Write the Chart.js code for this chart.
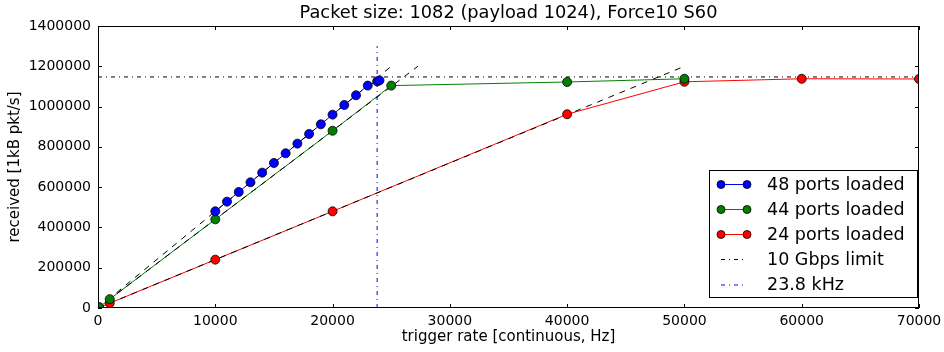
<!DOCTYPE html>
<html><head><meta charset="utf-8">
<script src="https://cdn.jsdelivr.net/npm/chart.js@4/dist/chart.umd.min.js"></script>
<style>html,body{margin:0;padding:0;background:#fff;overflow:hidden}canvas{display:block}</style>
</head><body>
<canvas id="c" width="944" height="352"></canvas>
<script>
const chartTitle = "Packet size: 1082 (payload 1024), Force10 S60";
const xTitle = "trigger rate [continuous, Hz]";
const yTitle = "received [1kB pkt/s]";
const xTicks = [0, 10000, 20000, 30000, 40000, 50000, 60000, 70000];
const yTicks = [0, 200000, 400000, 600000, 800000, 1000000, 1200000, 1400000];

const rate48 = [10000, 11000, 12000, 13000, 14000, 15000, 16000, 17000, 18000, 19000, 20000, 21000, 22000, 23000, 23800, 24000];
const recv48 = [480000, 528000, 576000, 624000, 672000, 720000, 768000, 816000, 864000, 912000, 960000, 1008000, 1056000, 1104000, 1125000, 1130000];

const rate44 = [100, 1000, 10000, 20000, 25000, 40000, 50000];
const recv44 = [4400, 44000, 440000, 880000, 1104000, 1122000, 1138000];

const rate24 = [100, 1000, 10000, 20000, 40000, 50000, 60000, 70000];
const recv24 = [2400, 24000, 240000, 480000, 962000, 1123000, 1138000, 1137000];

const theoryRate48 = [0, 25000];
const theoryRecv48 = [0, 1200000];
const theoryRate44 = [0, 27273];
const theoryRecv44 = [0, 1200000];
const theoryRate24 = [0, 50000];
const theoryRecv24 = [0, 1200000];

const limitRate = [0, 70000];
const limitRecv = [1147000, 1147000];
const kHzRate = [23800, 23800];
const kHzRecv = [0, 1300000];

const seriesLabels = ["48 ports loaded", "44 ports loaded", "24 ports loaded", "10 Gbps limit", "23.8 kHz"];
const seriesColors = ["#0000ff", "#008000", "#ff0000", "#000000", "#0000ff"];

const FONT = "'DejaVu Sans', 'Liberation Sans', sans-serif";
const DASH = [6, 6];
const DASHDOT = [4, 4, 1, 4];

function pts(xs, ys) { return xs.map((x, i) => ({x: x, y: ys[i]})); }

function lineDS(xs, ys, color, dash, order) {
  return {data: pts(xs, ys), showLine: true, borderColor: color, borderWidth: 1,
    borderDash: dash || [], pointRadius: 0, pointHoverRadius: 0, fill: false,
    tension: 0, order: order, clip: 0};
}
function markerDS(xs, ys, color) {
  return {data: pts(xs, ys), showLine: false, pointRadius: 4.5, pointHoverRadius: 4.5,
    pointBackgroundColor: color, pointBorderColor: '#000', pointBorderWidth: 0.8,
    order: 0, clip: 0};
}

const decor = {
  id: 'decor',
  afterDraw(chart) {
    const ctx = chart.ctx, a = chart.chartArea;
    const xs = chart.scales.x, ys = chart.scales.y;
    ctx.save();
    ctx.strokeStyle = '#000'; ctx.lineWidth = 1;
    ctx.strokeRect(Math.round(a.left) + 0.5, Math.round(a.top) + 0.5, Math.round(a.right - a.left) - 1, Math.round(a.bottom - a.top) - 1);
    ctx.beginPath();
    xTicks.forEach(v => {
      const p = Math.round(xs.getPixelForValue(v)) + 0.5;
      ctx.moveTo(p, a.bottom); ctx.lineTo(p, a.bottom - 4);
      ctx.moveTo(p, a.top); ctx.lineTo(p, a.top + 4);
    });
    yTicks.forEach(v => {
      const p = Math.round(ys.getPixelForValue(v)) + 0.5;
      ctx.moveTo(a.left, p); ctx.lineTo(a.left + 4, p);
      ctx.moveTo(a.right, p); ctx.lineTo(a.right - 4, p);
    });
    ctx.stroke();
    ctx.fillStyle = '#000';
    ctx.font = '17.8px ' + FONT;
    ctx.textAlign = 'center'; ctx.textBaseline = 'middle';
    ctx.fillText(chartTitle, (a.left + a.right) / 2, 13);
    const bx = 709.5, by = 170.5, bw = 208, bh = 127;
    ctx.fillStyle = '#fff'; ctx.fillRect(bx, by, bw, bh);
    ctx.strokeStyle = '#000'; ctx.lineWidth = 1; ctx.strokeRect(bx, by, bw, bh);
    const rows = [184, 209, 234, 259, 284.5];
    ctx.font = '17.5px ' + FONT; ctx.textAlign = 'left'; ctx.textBaseline = 'middle';
    seriesLabels.forEach((lab, i) => {
      const y = rows[i], c = seriesColors[i];
      ctx.strokeStyle = c; ctx.lineWidth = 1;
      ctx.setLineDash(i < 3 ? [] : DASHDOT);
      ctx.beginPath(); ctx.moveTo(721, y + 0.5); ctx.lineTo(747, y + 0.5); ctx.stroke();
      ctx.setLineDash([]);
      if (i < 3) {
        [721, 747].forEach(px => {
          ctx.beginPath(); ctx.arc(px, y + 0.5, 4, 0, Math.PI * 2);
          ctx.fillStyle = c; ctx.fill();
          ctx.strokeStyle = '#000'; ctx.lineWidth = 0.8; ctx.stroke();
        });
      }
      ctx.fillStyle = '#000';
      ctx.fillText(lab, 767, y + 1);
    });
    ctx.restore();
  }
};

new Chart(document.getElementById('c'), {
  type: 'scatter',
  data: {
    datasets: [
      markerDS(rate48, recv48, seriesColors[0]),
      markerDS(rate44, recv44, seriesColors[1]),
      markerDS(rate24, recv24, seriesColors[2]),
      lineDS(theoryRate48, theoryRecv48, '#000', DASH, 1),
      lineDS(theoryRate44, theoryRecv44, '#000', DASH, 1),
      lineDS(theoryRate24, theoryRecv24, '#000', DASH, 1),
      lineDS(limitRate, limitRecv, '#000', DASHDOT, 1),
      lineDS(kHzRate, kHzRecv, '#0000ff', DASHDOT, 1),
      lineDS(rate48, recv48, seriesColors[0], [], 2),
      lineDS(rate44, recv44, seriesColors[1], [], 2),
      lineDS(rate24, recv24, seriesColors[2], [], 2)
    ]
  },
  options: {
    responsive: false, animation: false,
    events: [],
    layout: {padding: {left: 0, top: 26, right: 25, bottom: 0}},
    plugins: {legend: {display: false}, tooltip: {enabled: false}, title: {display: false}},
    scales: {
      x: {
        type: 'linear', min: 0, max: 70000,
        afterBuildTicks: s => { s.ticks = xTicks.map(v => ({value: v})); },
        afterFit: s => { s.height = 44; s.paddingLeft = 0; s.paddingRight = 0; },
        grid: {display: true, drawOnChartArea: false, drawTicks: false},
        border: {display: false},
        ticks: {color: '#000', font: {family: FONT, size: 14}, padding: 5, maxRotation: 0, autoSkip: false,
          callback: v => String(v)},
        title: {display: true, text: xTitle, color: '#000', font: {family: FONT, size: 15}, padding: {top: 0, bottom: 6}}
      },
      y: {
        type: 'linear', min: 0, max: 1400000,
        afterBuildTicks: s => { s.ticks = yTicks.map(v => ({value: v})); },
        afterFit: s => { s.width = 98; s.paddingTop = 0; s.paddingBottom = 0; },
        grid: {display: true, drawOnChartArea: false, drawTicks: false},
        border: {display: false},
        ticks: {color: '#000', font: {family: FONT, size: 14}, padding: 7, autoSkip: false,
          callback: v => String(v)},
        title: {display: true, text: yTitle, color: '#000', font: {family: FONT, size: 15}, padding: {top: 6, bottom: 0}}
      }
    }
  },
  plugins: [decor]
});
</script>
</body></html>
